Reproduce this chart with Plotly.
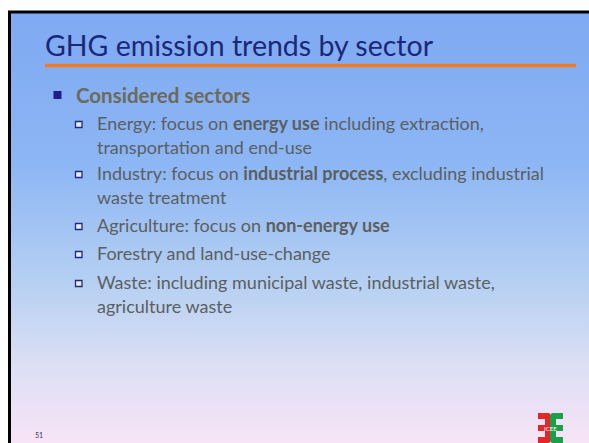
import base64
import plotly.graph_objects as go

# ---- content ----
title_text = "GHG emission trends by sector"
heading_text = "Considered sectors"
bullet_items = [
    ["Energy: focus on <b>energy use</b> including extraction,", "transportation and end-use"],
    ["Industry: focus on <b>industrial process</b>, excluding industrial", "waste treatment"],
    ["Agriculture: focus on <b>non-energy use</b>"],
    ["Forestry and land-use-change"],
    ["Waste: including municipal waste, industrial waste,", "agriculture waste"],
]
page_number = "51"
logo_label = "ICEE"

W, H = 589, 443
FONT = "Lato"

fig = go.Figure()
fig.add_trace(go.Scatter(x=[0, W], y=[0, H], mode="markers", marker=dict(opacity=0), hoverinfo="skip", showlegend=False))

# background gradient as svg image
svg = f'''<svg xmlns="http://www.w3.org/2000/svg" width="{W}" height="{H}" viewBox="0 0 {W} {H}" preserveAspectRatio="none">
<defs><linearGradient id="g" x1="0" y1="0" x2="0" y2="1">
<stop offset="0" stop-color="#7fa9f2"/>
<stop offset="0.35" stop-color="#8cb6f4"/>
<stop offset="0.62" stop-color="#b4cff2"/>
<stop offset="0.82" stop-color="#dcdff4"/>
<stop offset="1" stop-color="#f7e4f6"/>
</linearGradient></defs>
<rect x="0" y="0" width="{W}" height="{H}" fill="url(#g)"/></svg>'''
uri = "data:image/svg+xml;base64," + base64.b64encode(svg.encode()).decode()
fig.add_layout_image(dict(source=uri, xref="x", yref="y", x=9, y=12, sizex=W - 9, sizey=H - 12,
                          xanchor="left", yanchor="top", sizing="stretch", layer="below"))

shapes = []
# black frame
shapes.append(dict(type="line", x0=9.5, x1=9.5, y0=11, y1=H + 2, line=dict(color="black", width=3)))
shapes.append(dict(type="line", x0=8, x1=W + 2, y0=12, y1=12, line=dict(color="black", width=3)))
# orange rule
shapes.append(dict(type="line", x0=45, x1=576, y0=65.5, y1=65.5, line=dict(color="#f47a20", width=3.5)))
# level-1 bullet
shapes.append(dict(type="rect", x0=53.5, x1=61.5, y0=91, y1=99, fillcolor="#1f1f8a", line=dict(width=0)))

ann = []
ann.append(dict(text=title_text, x=43, y=45, xanchor="left", yanchor="middle",
                font=dict(family=FONT, size=28.5, color="#1b2878")))
ann.append(dict(text="<b>" + heading_text + "</b>", x=74, y=95, xanchor="left", yanchor="middle",
                font=dict(family=FONT, size=20.5, color="#6c6a5a")))

item_y = [123, 173, 225, 253, 282]
line_gap = 24
for items, y0 in zip(bullet_items, item_y):
    shapes.append(dict(type="rect", x0=75.5, x1=82, y0=y0 - 1.5, y1=y0 + 4.5,
                       fillcolor="#e8eefc", line=dict(color="#1f2a7a", width=1.3)))
    for k, line in enumerate(items):
        ann.append(dict(text=line, x=95, y=y0 + k * line_gap, xanchor="left", yanchor="middle",
                        font=dict(family=FONT, size=18, color="#5b5f60")))

ann.append(dict(text=page_number, x=33, y=435, xanchor="left", yanchor="middle",
                font=dict(family=FONT, size=7, color="#333355")))

# logo (approximate): red reversed-E and green E
red_path = ("M 538 413 L 548 413 Q 551 413 551 417 L 551 439 Q 551 443 548 443 L 538 443 L 538 437 "
            "L 545 437 L 545 431 L 538 431 L 538 425 L 545 425 L 545 419 L 538 419 Z")
green_path = ("M 563 413 L 553 413 Q 550 413 550 417 L 550 439 Q 550 443 553 443 L 563 443 L 563 437 "
              "L 556 437 L 556 431 L 563 431 L 563 425 L 556 425 L 556 419 L 563 419 Z")
shapes.append(dict(type="path", path=red_path, fillcolor="#e0282a", line=dict(width=0)))
shapes.append(dict(type="path", path=green_path, fillcolor="#1aa04a", line=dict(width=0)))
ann.append(dict(text=logo_label, x=550.5, y=428, xanchor="center", yanchor="middle",
                font=dict(family=FONT, size=6, color="white")))

for a in ann:
    a.update(xref="x", yref="y", showarrow=False)

fig.update_layout(
    width=W, height=H, autosize=False,
    margin=dict(l=0, r=0, t=0, b=0),
    paper_bgcolor="white", plot_bgcolor="rgba(0,0,0,0)",
    xaxis=dict(range=[0, W], visible=False, fixedrange=True),
    yaxis=dict(range=[H, 0], visible=False, fixedrange=True),
    shapes=shapes, annotations=ann, showlegend=False,
)
fig.write_html("out.html", post_script="document.body.style.margin='0';document.body.style.overflow='hidden';",
               config={"displayModeBar": False})
